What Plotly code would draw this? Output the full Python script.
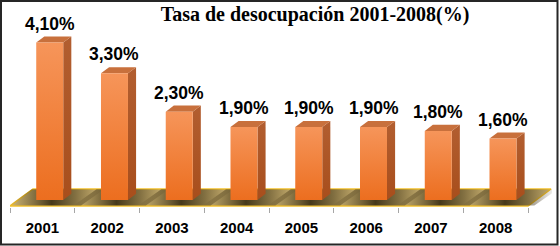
import plotly.graph_objects as go

years = ["2001", "2002", "2003", "2004", "2005", "2006", "2007", "2008"]
values = [4.1, 3.3, 2.3, 1.9, 1.9, 1.9, 1.8, 1.6]
labels = ["4,10%", "3,30%", "2,30%", "1,90%", "1,90%", "1,90%", "1,80%", "1,60%"]

# 3D geometry (in axis units)
BAR_L, BAR_R = -0.095, 0.322     # front face relative to slot centre
DX, DY = 0.125, 0.16             # bar depth offset
FL_FRONT, FL_BACK = -0.156, 0.287
FL_DX = 0.355

fig = go.Figure()
n = len(years)

# floor
fig.add_trace(go.Scatter(
    x=[-0.5, n - 0.5, n - 0.5 + FL_DX, -0.5 + FL_DX, -0.5],
    y=[FL_FRONT, FL_FRONT, FL_BACK, FL_BACK, FL_FRONT],
    fill="toself", fillcolor="#d4bb78", mode="lines",
    line=dict(color="#f3c12c", width=1.5), hoverinfo="skip", showlegend=False))

# shadows on floor
for i in range(n):
    l = i + BAR_L - 0.3
    r = i + BAR_R + 0.4
    fig.add_trace(go.Scatter(
        x=[l - 0.124, r - 0.124, r + FL_DX - 0.124, l + FL_DX - 0.124, l - 0.124],
        y=[FL_FRONT + 0.01, FL_FRONT + 0.01, FL_BACK - 0.01, FL_BACK - 0.01, FL_FRONT + 0.01],
        fill="toself", mode="none",
        fillgradient=dict(type="horizontal", colorscale=[
            [0, "rgba(60,45,15,0)"], [0.45, "rgba(45,34,10,0.85)"],
            [0.7, "rgba(50,38,12,0.5)"], [1, "rgba(60,45,15,0)"]]),
        hoverinfo="skip", showlegend=False))

# bars
for i, v in enumerate(values):
    L, R = i + BAR_L, i + BAR_R
    # side
    fig.add_trace(go.Scatter(
        x=[R, R + DX, R + DX, R, R], y=[0, DY, v + DY, v, 0],
        fill="toself", mode="none",
        fillgradient=dict(type="vertical", colorscale=[[0, "#a84e1c"], [1, "#b25e30"]]),
        hoverinfo="skip", showlegend=False))
    # top
    fig.add_trace(go.Scatter(
        x=[L, R, R + DX, L + DX, L], y=[v, v, v + DY, v + DY, v],
        fill="toself", fillcolor="#c8703c", mode="none",
        hoverinfo="skip", showlegend=False))
    # front
    fig.add_trace(go.Scatter(
        x=[L, R, R, L, L], y=[0, 0, v, v, 0],
        fill="toself", mode="none",
        fillgradient=dict(type="vertical", colorscale=[[0, "#ec6e1f"], [1, "#f6955a"]]),
        hoverinfo="skip", showlegend=False))
    fig.add_annotation(x=(L + R) / 2, y=v, text=labels[i], showarrow=False,
                       xref="x", yref="y", yanchor="middle", yshift=19,
                       font=dict(family="Liberation Sans", size=17.5, color="#000000", weight="bold"))

# border frame (whole chart)
fig.add_shape(type="rect", xref="paper", yref="paper",
              x0=(1 - 10) / 542, x1=(557.5 - 10) / 542,
              y0=(207 - 244.5) / 202, y1=(207 - 1) / 202,
              line=dict(color="#262626", width=2), fillcolor="rgba(0,0,0,0)", layer="above")

fig.update_layout(
    template="none",
    width=560, height=246,
    margin=dict(l=10, r=8, t=5, b=39, autoexpand=False),
    paper_bgcolor="white", plot_bgcolor="white",
    title=dict(text="Tasa de desocupación 2001-2008(%)", x=315 / 560, xanchor="center",
               xref="container", y=1 - 14 / 246, yanchor="middle", yref="container",
               font=dict(family="Liberation Serif", size=20, color="#000000", weight="bold")),
    xaxis=dict(range=[-0.5, n - 0.5 + 0.37], tickvals=list(range(n)), ticktext=years,
               ticks="outside", ticklen=7, tickcolor="rgba(0,0,0,0)",
               showgrid=False, zeroline=False, showline=False,
               tickfont=dict(family="Liberation Sans", size=15, color="#000000", weight="bold")),
    xaxis2=dict(range=[-0.5, n - 0.5 + 0.37], overlaying="x", anchor="y", side="bottom",
                tickvals=[k - 0.5 for k in range(n + 1)], ticks="outside", ticklen=5,
                tickcolor="#a6a6a6", showticklabels=False, showgrid=False, zeroline=False,
                showline=False),
    yaxis=dict(range=[-0.182, 5.078], visible=False, showgrid=False, zeroline=False),
)
# dummy trace to activate xaxis2
fig.add_trace(go.Scatter(x=[0], y=[0], xaxis="x2", mode="none", hoverinfo="skip", showlegend=False))

fig.write_html("out.html", config={"displayModeBar": False},
               post_script="document.body.style.margin='0';")
